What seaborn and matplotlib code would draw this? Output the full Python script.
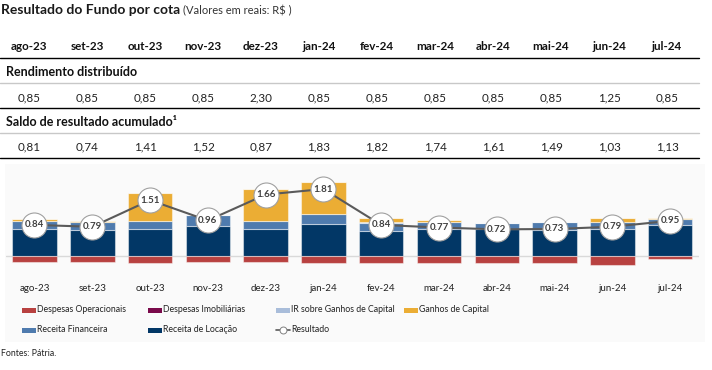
import numpy as np
import pandas as pd
import matplotlib
matplotlib.use("Agg")
import matplotlib.pyplot as plt
from matplotlib.patches import Rectangle
from matplotlib.lines import Line2D
import seaborn as sns

# ---------------- data ----------------
meses = ["ago-23", "set-23", "out-23", "nov-23", "dez-23", "jan-24",
         "fev-24", "mar-24", "abr-24", "mai-24", "jun-24", "jul-24"]
rendimento = ["0,85", "0,85", "0,85", "0,85", "2,30", "0,85",
              "0,85", "0,85", "0,85", "0,85", "1,25", "0,85"]
saldo = ["0,81", "0,74", "1,41", "1,52", "0,87", "1,83",
         "1,82", "1,74", "1,61", "1,49", "1,03", "1,13"]

receita_locacao = [0.72, 0.71, 0.72, 0.80, 0.73, 0.87, 0.68, 0.72, 0.72, 0.71, 0.72, 0.83]
receita_financeira = [0.22, 0.20, 0.22, 0.30, 0.22, 0.26, 0.22, 0.19, 0.18, 0.20, 0.20, 0.17]
ir_ganhos = [0.00, 0.00, 0.00, 0.00, 0.00, 0.00, 0.01, 0.00, 0.00, 0.00, 0.00, 0.00]
ganhos_capital = [0.06, 0.04, 0.76, 0.02, 0.86, 0.87, 0.11, 0.05, 0.00, 0.01, 0.11, 0.04]
despesas_imob = [0.00, 0.00, 0.00, 0.00, 0.00, 0.00, 0.01, 0.00, 0.00, 0.00, 0.00, 0.00]
despesas_oper = [-0.16, -0.16, -0.19, -0.16, -0.15, -0.19, -0.19, -0.19, -0.18, -0.19, -0.24, -0.09]
resultado = [0.84, 0.79, 1.51, 0.96, 1.66, 1.81, 0.84, 0.77, 0.72, 0.73, 0.79, 0.95]

cores = {
    "Despesas Operacionais": "#B84140",
    "Despesas Imobiliárias": "#7A0A4B",
    "IR sobre Ganhos de Capital": "#A9BDDA",
    "Ganhos de Capital": "#EBAD34",
    "Receita Financeira": "#4F7BAE",
    "Receita de Locação": "#023766",
}

# ---------------- figure ----------------
sns.set_theme(style="white")
plt.rcParams["font.family"] = ["Lato", "DejaVu Sans"]
NARROW = ["Liberation Sans Narrow", "Lato", "DejaVu Sans"]

W, H = 712, 370
fig = plt.figure(figsize=(W / 100, H / 100), dpi=100)
fig.patch.set_facecolor("white")


def fx(x):
    return x / W


def fy(y):
    return 1 - y / H


# title
fig.text(fx(1), fy(10), "Resultado do Fundo por cota", fontsize=10, fontweight="bold",
         color="#1a1a1a", va="center", ha="left")
fig.text(fx(183), fy(10.5), "(Valores em reais: R$ )", fontsize=8, color="#333333",
         va="center", ha="left")

# table
cols_x = np.linspace(29, 667, 12)
for x, m in zip(cols_x, meses):
    fig.text(fx(x), fy(46), m, fontsize=8.4, fontweight="bold", ha="center", va="center", color="#111111")
fig.add_artist(Line2D([fx(0), fx(699)], [fy(58), fy(58)], color="black", lw=1.0))
fig.text(fx(6), fy(72.5), "Rendimento distribuído", fontsize=9, fontweight="bold",
         ha="left", va="center", color="#111111")
fig.add_artist(Line2D([fx(0), fx(699)], [fy(83), fy(83)], color="#c8c8c8", lw=1.0))
for x, v in zip(cols_x, rendimento):
    fig.text(fx(x), fy(97.5), v, fontsize=8.4, ha="center", va="center", color="#222222")
fig.add_artist(Line2D([fx(0), fx(699)], [fy(108), fy(108)], color="black", lw=1.0))
fig.text(fx(6), fy(122), "Saldo de resultado acumulado\u00b9", fontsize=9, fontweight="bold",
         ha="left", va="center", color="#111111")
fig.add_artist(Line2D([fx(0), fx(699)], [fy(133), fy(133)], color="#c8c8c8", lw=1.0))
for x, v in zip(cols_x, saldo):
    fig.text(fx(x), fy(146.5), v, fontsize=8.4, ha="center", va="center", color="#222222")
fig.add_artist(Line2D([fx(0), fx(699)], [fy(158), fy(158)], color="black", lw=1.0))

# chart background panel
fig.add_artist(Rectangle((fx(5), fy(342)), fx(700), (342 - 164) / H, transform=fig.transFigure,
                         facecolor="#fafafa", edgecolor="none", zorder=0))

# axes
ax_left, ax_right, ax_top, ax_bot = 5.6, 699, 168, 278
ax = fig.add_axes([fx(ax_left), fy(ax_bot), (ax_right - ax_left) / W, (ax_bot - ax_top) / H])
ax.set_facecolor("none")

df = pd.DataFrame({
    "mes": meses,
    "loc": receita_locacao,
    "fin": receita_financeira,
    "ir": ir_ganhos,
    "gan": ganhos_capital,
    "imob": despesas_imob,
    "oper": despesas_oper,
})

bw = 0.77
edge = dict(edgecolor=(1, 1, 1, 0.45), linewidth=0.8)
bottom = np.zeros(12)
for key, name in [("loc", "Receita de Locação"), ("fin", "Receita Financeira"),
                  ("ir", "IR sobre Ganhos de Capital"), ("gan", "Ganhos de Capital"),
                  ("imob", "Despesas Imobiliárias")]:
    sns.barplot(data=df, x="mes", y=key, color=cores[name], width=bw, errorbar=None,
                bottom=bottom.copy(), ax=ax, saturation=1, **edge)
    bottom = bottom + df[key].to_numpy()
sns.barplot(data=df, x="mes", y="oper", color=cores["Despesas Operacionais"], width=bw,
            errorbar=None, ax=ax, saturation=1, **edge)

ax.axhline(0, color="#d9d9d9", lw=1.0, zorder=0.5)

pos = np.arange(12)
sns.lineplot(x=pos, y=resultado, ax=ax, color="#5a5a5a", lw=1.5, zorder=5,
             marker="o", markersize=18, markerfacecolor="white",
             markeredgecolor="#a0a0a0", markeredgewidth=0.8)
for p, r in zip(pos, resultado):
    ax.text(p, r, f"{r:.2f}", ha="center", va="center", fontsize=7, color="#404040",
            fontweight="bold", zorder=6)

ax.set_xlim(-0.5, 11.5)
zero_px = 256
ppu = 37.0
ax.set_ylim(-(ax_bot - zero_px) / ppu, (zero_px - ax_top) / ppu)
ax.set_xticks(pos)
ax.set_xticklabels(meses, fontsize=7, color="#222222")
ax.tick_params(axis="x", length=0, pad=4)
ax.set_yticks([])
ax.set_xlabel("")
ax.set_ylabel("")
for s in ax.spines.values():
    s.set_visible(False)

# legend (manual)
leg_items = [
    ("Despesas Operacionais", 22, 310), ("Despesas Imobiliárias", 148, 310),
    ("IR sobre Ganhos de Capital", 276, 310), ("Ganhos de Capital", 404, 310),
    ("Receita Financeira", 22, 330), ("Receita de Locação", 148, 330),
]
for name, x, y in leg_items:
    fig.add_artist(Rectangle((fx(x), fy(y + 2.5)), 14 / W, 5 / H, transform=fig.transFigure,
                             facecolor=cores[name], edgecolor="none"))
    fig.text(fx(x + 15), fy(y), name, fontsize=6.3, ha="left", va="center", color="#222222",
             family=NARROW)
fig.add_artist(Line2D([fx(276), fx(290)], [fy(330), fy(330)], color="#5a5a5a", lw=1.2,
                      transform=fig.transFigure))
fig.add_artist(Line2D([fx(283)], [fy(330)], color="#5a5a5a", lw=0, marker="o", markersize=5,
                      markerfacecolor="white", markeredgecolor="#808080", markeredgewidth=0.7,
                      transform=fig.transFigure))
fig.text(fx(291), fy(330), "Resultado", fontsize=6.3, ha="left", va="center", color="#222222",
         family=NARROW)

fig.text(fx(1), fy(353), "Fontes: Pátria.", fontsize=6.3, ha="left", va="center", color="#222222",
         family=NARROW)

fig.savefig("out.png", dpi=100)
